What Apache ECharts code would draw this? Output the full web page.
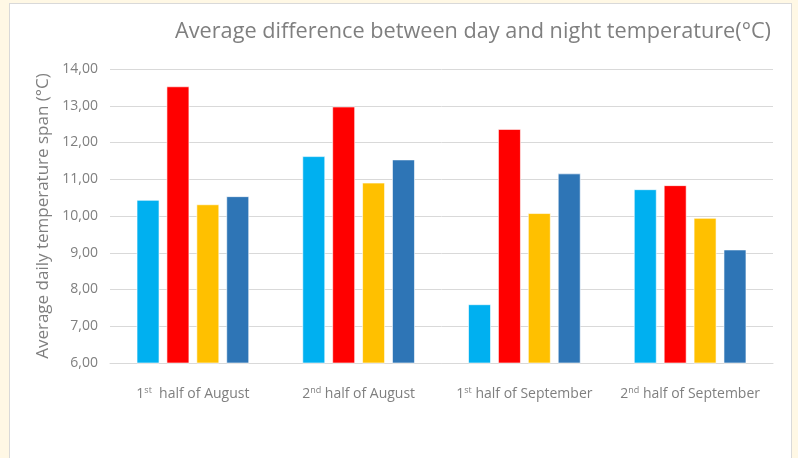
<!DOCTYPE html>
<html>
<head>
<meta charset="utf-8">
<script src="https://cdn.jsdelivr.net/npm/echarts@6/dist/echarts.min.js"></script>
<style>
  html, body { margin: 0; padding: 0; background: #fff8e5; }
  #chart {
    position: absolute; left: 9px; top: 3px;
    width: 781px; height: 460px;
    background: #fff; border: 1px solid #d9d9d9; border-bottom: none;
  }
</style>
</head>
<body>
<div id="chart"></div>
<script>
const categories = ['{n|1}{s|st}{t|  half of August}', '{n|2}{s|nd}{t| half of August}',
                    '{n|1}{s|st}{t| half of September}', '{n|2}{s|nd}{t| half of September}'];
const series1 = [10.44, 11.63, 7.60, 10.73];
const series2 = [13.53, 12.98, 12.37, 10.84];
const series3 = [10.32, 10.91, 10.08, 9.95];
const series4 = [10.54, 11.54, 11.16, 9.09];
const colors = ['#00b0f0', '#ff0000', '#ffc000', '#2e75b6'];

const font = '"Open Sans", "Noto Sans", sans-serif';
const grey = '#7f7f7f';

let mychart = echarts.init(document.getElementById('chart'));

const bar = (name, data, i) => ({
    name: name,
    type: 'bar',
    data: data,
    barWidth: 23,
    barGap: '30%',
    itemStyle: { color: colors[i], borderColor: 'rgba(255,255,255,0.6)', borderWidth: 1 }
});

let option = {
    animation: false,
    title: {
        text: 'Average difference between day and night temperature(°C)',
        right: 15,
        top: 12,
        textStyle: { color: grey, fontSize: 21.7, fontWeight: 'normal', fontFamily: font }
    },
    grid: { left: 100, right: 18, top: 65, bottom: 101 },
    xAxis: {
        type: 'category',
        data: categories,
        axisLine: { lineStyle: { color: '#d9d9d9' } },
        axisTick: { show: false },
        axisLabel: {
            interval: 0,
            margin: 23,
            rich: {
                n: { color: grey, fontSize: 14, fontFamily: font, lineHeight: 16 },
                s: { color: grey, fontSize: 9, fontFamily: font, verticalAlign: 'top', lineHeight: 16, padding: [0, 0, 8, 0] },
                t: { color: grey, fontSize: 14, fontFamily: font, lineHeight: 16 }
            }
        }
    },
    yAxis: {
        type: 'value',
        min: 6,
        max: 14,
        interval: 1,
        name: 'Average daily temperature span (°C)',
        nameLocation: 'middle',
        nameGap: 52,
        nameTextStyle: { color: grey, fontSize: 17, fontFamily: font },
        axisLine: { show: false },
        axisTick: { show: false },
        axisLabel: {
            color: grey, fontSize: 14, fontFamily: font, margin: 12,
            formatter: v => v.toFixed(2).replace('.', ',')
        },
        splitLine: { lineStyle: { color: '#d9d9d9' } }
    },
    series: [
        bar('Series 1', series1, 0),
        bar('Series 2', series2, 1),
        bar('Series 3', series3, 2),
        bar('Series 4', series4, 3)
    ]
};

mychart.setOption(option);
</script>
</body>
</html>
